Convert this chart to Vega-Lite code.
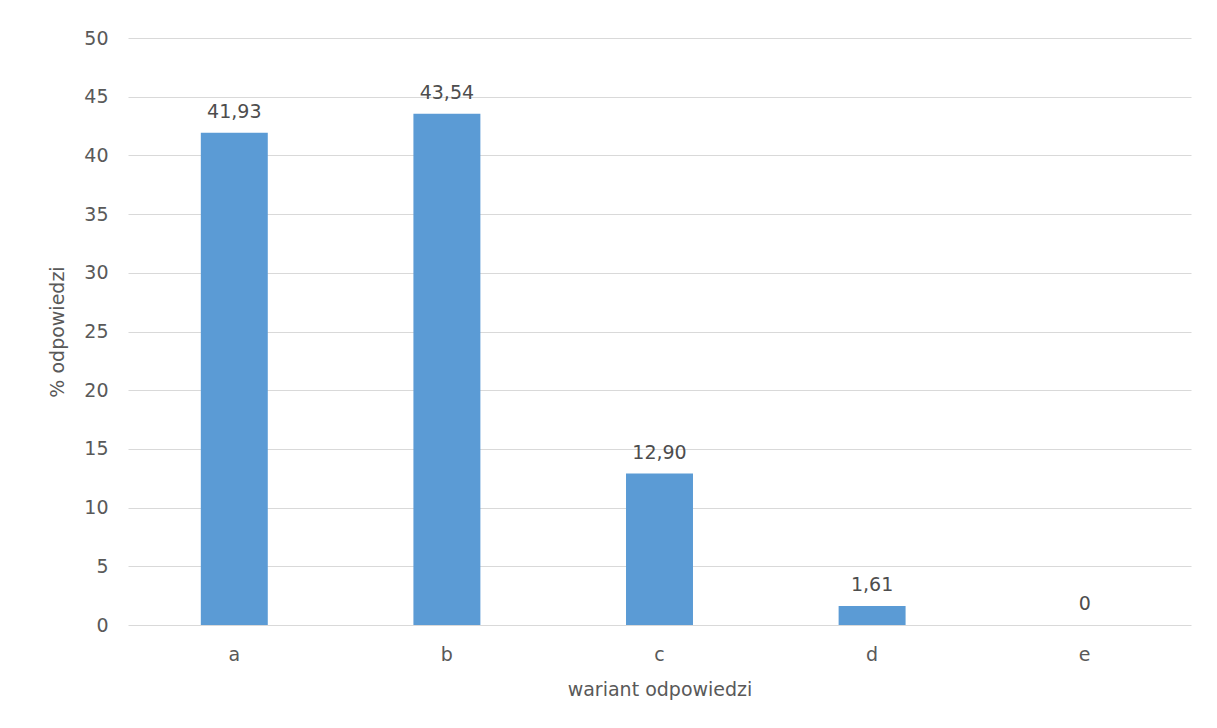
{
  "$schema": "https://vega.github.io/schema/vega-lite/v6.json",
  "autosize": "none",
  "width": 1063,
  "height": 587,
  "padding": {"left": 128, "top": 38, "right": 26, "bottom": 103},
  "background": "white",
  "data": {
    "values": [
      {"wariant": "a", "procent": 41.93, "etykieta": "41,93"},
      {"wariant": "b", "procent": 43.54, "etykieta": "43,54"},
      {"wariant": "c", "procent": 12.90, "etykieta": "12,90"},
      {"wariant": "d", "procent": 1.61, "etykieta": "1,61"},
      {"wariant": "e", "procent": 0, "etykieta": "0"}
    ]
  },
  "encoding": {
    "x": {
      "field": "wariant",
      "type": "nominal",
      "scale": {"paddingInner": 0.685, "paddingOuter": 0.3425},
      "axis": {
        "title": "wariant odpowiedzi",
        "labelAngle": 0,
        "labelPadding": 20,
        "titlePadding": 16,
        "domain": false,
        "ticks": false
      }
    },
    "y": {
      "field": "procent",
      "type": "quantitative",
      "scale": {"domain": [0, 50], "nice": false},
      "axis": {
        "title": "% odpowiedzi",
        "values": [0, 5, 10, 15, 20, 25, 30, 35, 40, 45, 50],
        "labelPadding": 20,
        "titlePadding": 16,
        "domain": false,
        "ticks": false
      }
    }
  },
  "layer": [
    {"mark": {"type": "bar", "color": "#5b9bd5"}},
    {
      "mark": {"type": "text", "baseline": "bottom", "dy": -11, "fontSize": 19, "color": "#4d4d4d", "font": "DejaVu Sans"},
      "encoding": {"text": {"field": "etykieta"}}
    }
  ],
  "config": {
    "view": {"stroke": null},
    "axis": {
      "labelFont": "DejaVu Sans",
      "titleFont": "DejaVu Sans",
      "labelFontSize": 19,
      "titleFontSize": 19,
      "labelColor": "#595959",
      "titleColor": "#595959",
      "titleFontWeight": "normal",
      "gridColor": "#d9d9d9",
      "gridWidth": 1
    }
  }
}
